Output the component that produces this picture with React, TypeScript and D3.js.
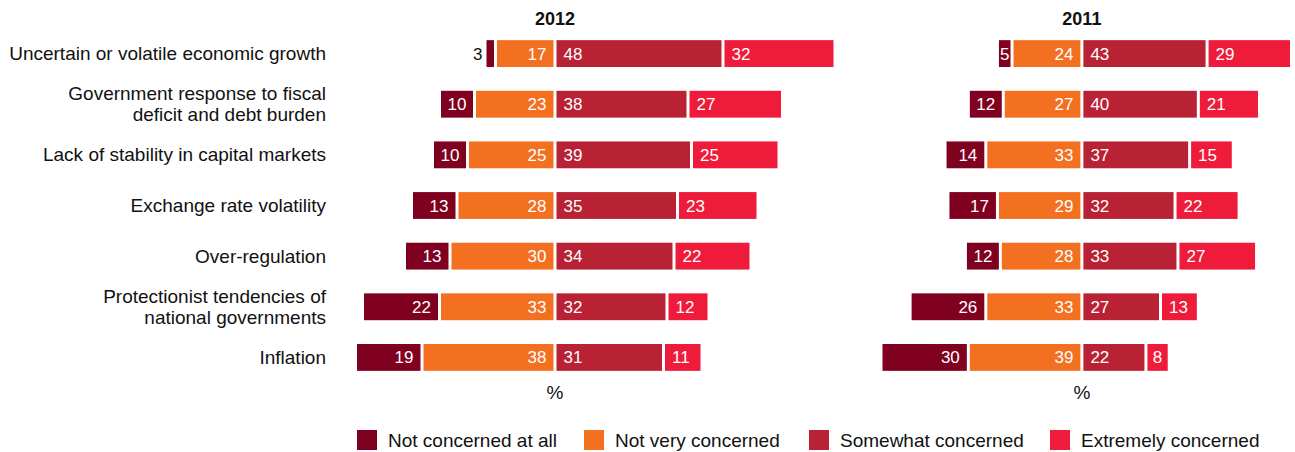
import React from "react";
import * as d3 from "d3";

const categories: string[][] = [
  ["Uncertain or volatile economic growth"],
  ["Government response to fiscal", "deficit and debt burden"],
  ["Lack of stability in capital markets"],
  ["Exchange rate volatility"],
  ["Over-regulation"],
  ["Protectionist tendencies of", "national governments"],
  ["Inflation"],
];

const seriesNames = ["Not concerned at all", "Not very concerned", "Somewhat concerned", "Extremely concerned"];
const colors = ["#800020", "#f37021", "#b92235", "#ee1c3a"];

// 2012 values per series
const notAtAll2012 = [3, 10, 10, 13, 13, 22, 19];
const notVery2012 = [17, 23, 25, 28, 30, 33, 38];
const somewhat2012 = [48, 38, 39, 35, 34, 32, 31];
const extremely2012 = [32, 27, 25, 23, 22, 12, 11];

// 2011 values per series
const notAtAll2011 = [5, 12, 14, 17, 12, 26, 30];
const notVery2011 = [24, 27, 33, 29, 28, 33, 39];
const somewhat2011 = [43, 40, 37, 32, 33, 27, 22];
const extremely2011 = [29, 21, 15, 22, 27, 13, 8];

const panels = [
  { title: "2012", series: [notAtAll2012, notVery2012, somewhat2012, extremely2012], domain: [-57, 80], range: [355.5, 835] },
  { title: "2011", series: [notAtAll2011, notVery2011, somewhat2011, extremely2011], domain: [-69, 72], range: [881, 1291.5] },
];

const FONT = "'Liberation Sans', Arial, Helvetica, sans-serif";
const FS = 17;
const LFS = 19;
const digitW = 0.556 * FS;

export default function App() {
  const y = d3
    .scaleBand<number>()
    .domain(d3.range(categories.length))
    .range([28, 383])
    .paddingInner(0.47)
    .paddingOuter(0.24);

  const bh = y.bandwidth();
  const inset = 1.5;
  const pad = 7;

  return (
    <svg width={1295} height={452} style={{ display: "block", position: "absolute", left: 0, top: 0 }} fontFamily={FONT}>
      <rect width={1295} height={452} fill="#fff" />
      {categories.map((lines, i) => {
        const cy = (y(i) as number) + bh / 2;
        const lh = 21;
        const start = cy - ((lines.length - 1) * lh) / 2 + 6.5;
        return (
          <text key={i} x={326} textAnchor="end" fontSize={LFS} fill="#111">
            {lines.map((l, j) => (
              <tspan key={j} x={326} y={start + j * lh}>
                {l}
              </tspan>
            ))}
          </text>
        );
      })}
      {panels.map((p, pi) => {
        const x = d3.scaleLinear().domain(p.domain).range(p.range);
        const cx = x(0);
        return (
          <g key={pi}>
            <text x={cx} y={25} textAnchor="middle" fontSize={18} fontWeight="bold" fill="#111">
              {p.title}
            </text>
            <text x={cx} y={399} textAnchor="middle" fontSize={LFS} fill="#111">
              %
            </text>
            {categories.map((_, i) => {
              const vals = p.series.map((s) => s[i]);
              const segs: { a: number; b: number; v: number; k: number }[] = [];
              segs.push({ a: -(vals[0] + vals[1]), b: -vals[1], v: vals[0], k: 0 });
              segs.push({ a: -vals[1], b: 0, v: vals[1], k: 1 });
              segs.push({ a: 0, b: vals[2], v: vals[2], k: 2 });
              segs.push({ a: vals[2], b: vals[2] + vals[3], v: vals[3], k: 3 });
              const top = y(i) as number;
              const ty = top + bh / 2 + 6;
              return (
                <g key={i}>
                  {segs.map((s) => {
                    const x0 = x(s.a) + inset;
                    const x1 = x(s.b) - inset;
                    const w = x1 - x0;
                    const tw = String(s.v).length * digitW;
                    let lx: number;
                    let anchor: "start" | "end" | "middle";
                    let fill = "#fff";
                    if (tw > w) {
                      lx = x0 - 4;
                      anchor = "end";
                      fill = "#111";
                    } else if (tw + 2 * pad > w) {
                      lx = (x0 + x1) / 2;
                      anchor = "middle";
                    } else if (s.k < 2) {
                      lx = x1 - pad;
                      anchor = "end";
                    } else {
                      lx = x0 + pad;
                      anchor = "start";
                    }
                    return (
                      <g key={s.k}>
                        <rect x={x0} y={top} width={w} height={bh} fill={colors[s.k]} />
                        <text x={lx} y={ty} textAnchor={anchor} fontSize={FS} fill={fill}>
                          {s.v}
                        </text>
                      </g>
                    );
                  })}
                </g>
              );
            })}
          </g>
        );
      })}
      {seriesNames.map((n, k) => {
        const lx = [357, 584, 809, 1050][k];
        return (
          <g key={k}>
            <rect x={lx} y={430} width={20} height={20} fill={colors[k]} />
            <text x={lx + 31} y={447} fontSize={LFS} fill="#111">
              {n}
            </text>
          </g>
        );
      })}
    </svg>
  );
}
